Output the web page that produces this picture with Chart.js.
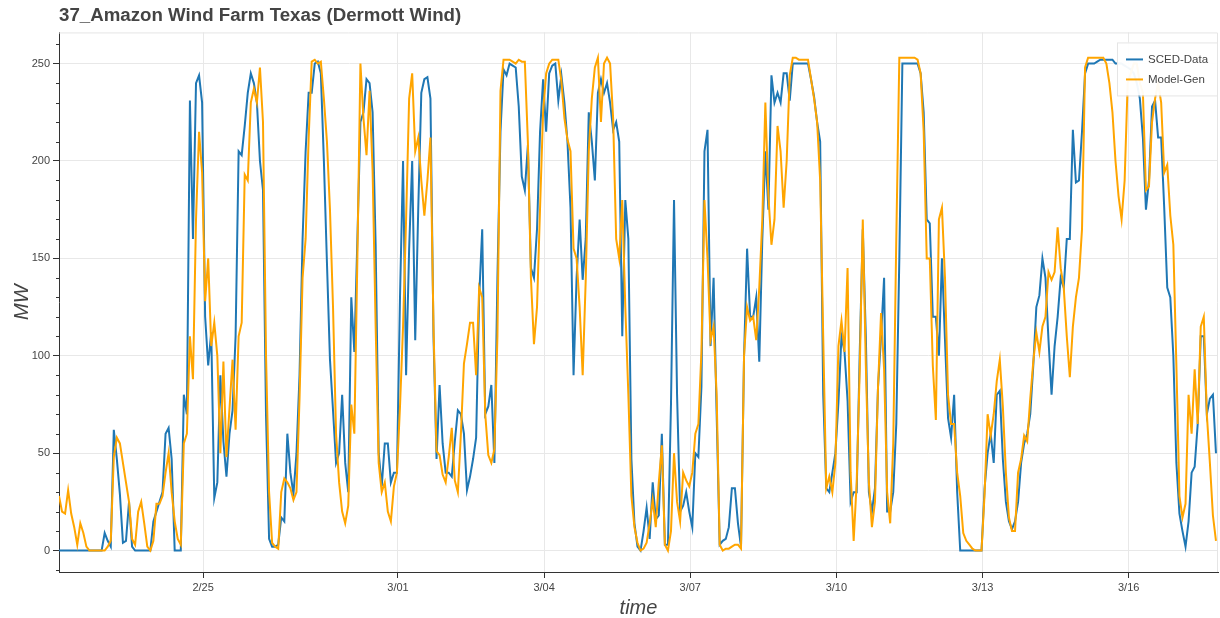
<!DOCTYPE html>
<html>
<head>
<meta charset="utf-8">
<script src="https://cdn.jsdelivr.net/npm/chart.js@4.4.1/dist/chart.umd.min.js"></script>
<style>
	html, body { margin: 0; padding: 0; background: #fff; }
</style>
</head>
<body>
<canvas id="myChart" width="1220" height="618"></canvas>
<script>
// sample times: hours since 2/22 00:00, one reading every 1.5 hours
const hours = Array.from(Array(381), (_, i) => 1 + i * 1.5);

// one row per day (2/22 ... 3/17)
const sced = [
	0, 0, 0, 0, 0, 0, 0, 0, 0, 0, 0, 0, 0, 0, 0, 9,
	5, 2, 62, 47, 29, 4, 5, 25, 2, 0, 0, 0, 0, 0, 0, 15,
	20, 25, 30, 60, 63, 47, 0, 0, 0, 80, 70, 231, 160, 240, 244, 230,
	120, 95, 112, 27, 35, 90, 56, 38, 60, 72, 110, 205, 203, 218, 235, 245,
	240, 230, 200, 185, 69, 6, 2, 2, 3, 17, 15, 60, 40, 29, 50, 90,
	160, 205, 235, 235, 250, 251, 245, 200, 148, 98, 72, 45, 50, 80, 45, 30,
	130, 102, 160, 220, 225, 242, 240, 225, 157, 50, 33, 55, 55, 35, 40, 40,
	130, 200, 90, 155, 200, 108, 176, 235, 242, 243, 232, 110, 47, 85, 55, 40,
	40, 38, 56, 72, 70, 60, 31, 38, 47, 58, 130, 165, 70, 74, 85, 45,
	140, 215, 247, 244, 250, 249, 248, 228, 192, 185, 208, 145, 140, 165, 215, 242,
	215, 245, 249, 250, 231, 244, 230, 210, 176, 90, 140, 170, 139, 160, 225, 210,
	190, 235, 242, 235, 240, 230, 216, 220, 210, 110, 180, 160, 47, 14, 2, 0,
	10, 22, 6, 35, 16, 18, 60, 3, 3, 75, 180, 80, 20, 23, 30, 20,
	12, 50, 48, 84, 205, 216, 105, 140, 70, 3, 5, 6, 12, 32, 32, 14,
	2, 100, 155, 120, 120, 130, 97, 160, 205, 175, 244, 230, 235, 230, 245, 245,
	231, 250, 250, 250, 250, 250, 250, 242, 233, 220, 210, 80, 32, 30, 40, 50,
	76, 110, 102, 77, 25, 30, 30, 102, 165, 110, 30, 20, 32, 84, 110, 140,
	20, 20, 30, 65, 150, 250, 250, 250, 250, 250, 250, 245, 225, 170, 168, 120,
	120, 100, 150, 108, 68, 58, 80, 30, 0, 0, 0, 0, 0, 0, 0, 0,
	32, 50, 60, 45, 80, 82, 47, 25, 15, 11, 15, 25, 45, 55, 60, 70,
	95, 125, 131, 150, 140, 108, 80, 105, 120, 140, 135, 160, 160, 216, 189, 190,
	215, 245, 250, 250, 250, 251, 252, 252, 252, 252, 252, 250, 250, 250, 249, 248,
	247, 245, 240, 232, 212, 175, 190, 228, 231, 212, 212, 176, 135, 130, 100, 45,
	19, 10, 2, 15, 40, 43, 65, 110, 110, 70, 78, 80, 50
];

const modelGen = [
	28, 20, 19, 31, 19, 12, 3, 14, 9, 2, 0, 0, 0, 0, 0, 0,
	2, 5, 48, 58, 55, 45, 35, 25, 6, 3, 20, 25, 14, 2, 0, 5,
	24, 24, 28, 40, 50, 30, 15, 6, 3, 55, 60, 110, 88, 170, 215, 194,
	128, 150, 105, 117, 100, 50, 97, 48, 73, 98, 62, 110, 117, 193, 190, 230,
	237, 230, 248, 220, 100, 30, 4, 2, 1, 30, 37, 35, 32, 26, 30, 78,
	140, 160, 212, 251, 252, 250, 251, 232, 210, 175, 125, 60, 35, 20, 14, 23,
	75, 60, 150, 250, 222, 203, 236, 195, 115, 45, 30, 35, 20, 15, 33, 40,
	74, 115, 170, 232, 245, 205, 212, 190, 172, 190, 212, 115, 51, 49, 39, 35,
	48, 63, 36, 30, 60, 96, 106, 117, 117, 90, 135, 130, 70, 49, 45, 52,
	110, 236, 252, 252, 252, 251, 250, 252, 251, 251, 210, 140, 106, 125, 176, 225,
	245, 250, 252, 252, 252, 241, 222, 211, 205, 155, 150, 125, 90, 139, 205, 232,
	248, 253, 220, 250, 253, 250, 222, 160, 150, 180, 125, 80, 28, 12, 4, 0,
	1, 4, 14, 26, 12, 35, 54, 3, 0, 10, 50, 25, 15, 40, 36, 33,
	40, 60, 65, 102, 180, 150, 108, 115, 80, 3, 0, 1, 1, 2, 3, 3,
	1, 100, 125, 118, 120, 108, 135, 170, 230, 182, 157, 170, 218, 205, 176, 200,
	244, 253, 253, 252, 252, 252, 252, 242, 232, 220, 190, 110, 32, 38, 30, 45,
	105, 118, 102, 145, 40, 5, 35, 93, 170, 95, 35, 12, 25, 84, 122, 93,
	30, 14, 55, 160, 253, 253, 253, 253, 253, 253, 252, 245, 215, 150, 150, 95,
	67, 170, 176, 140, 80, 65, 65, 40, 28, 9, 5, 3, 1, 0, 0, 0,
	29, 70, 59, 70, 87, 98, 74, 40, 17, 10, 10, 40, 47, 59, 56, 78,
	97, 112, 102, 115, 120, 143, 139, 143, 166, 145, 135, 110, 89, 115, 130, 140,
	165, 248, 253, 253, 253, 253, 253, 253, 250, 240, 225, 200, 182, 170, 190, 240,
	245, 250, 250, 240, 235, 185, 187, 220, 232, 240, 230, 194, 198, 172, 157, 95,
	28, 17, 24, 80, 60, 93, 65, 115, 120, 70, 45, 18, 5
];

const tickHours = [72, 168, 240, 312, 384, 456, 528];
const tickLabels = ['2/25', '3/01', '3/04', '3/07', '3/10', '3/13', '3/16'];
const yTicks = [0, 50, 100, 150, 200, 250];

const names = ['SCED-Data', 'Model-Gen'];
const colors = ['#1f77b4', '#ffa500'];

const FONT = 'Liberation Sans, Helvetica, Arial, sans-serif';

// bokeh-ish extras: plot outline, minor y ticks, legend box
const bokehBits = {
	id: 'bokehBits',
	beforeDatasetsDraw(chart) {
		const { ctx, chartArea: a } = chart;
		ctx.save();
		ctx.strokeStyle = '#e5e5e5';
		ctx.lineWidth = 1;
		ctx.beginPath();
		ctx.moveTo(a.left, a.top + 0.5);
		ctx.lineTo(a.right - 0.5, a.top + 0.5);
		ctx.lineTo(a.right - 0.5, a.bottom);
		ctx.stroke();
		ctx.restore();
	},
	afterDraw(chart) {
		const { ctx, chartArea: a } = chart;
		const y = chart.scales.y;
		ctx.save();
		ctx.strokeStyle = '#333';
		ctx.lineWidth = 1;
		ctx.beginPath();
		for (let v = -10; v <= 260; v += 10) {
			if (v % 50 === 0) continue;
			const py = Math.round(y.getPixelForValue(v)) + 0.5;
			ctx.moveTo(a.left - 3, py);
			ctx.lineTo(a.left, py);
		}
		ctx.stroke();

		// legend
		const bx = a.right - 101, by = a.top + 10, bw = 100, bh = 53;
		ctx.fillStyle = 'rgba(255,255,255,0.95)';
		ctx.fillRect(bx, by, bw, bh);
		ctx.strokeStyle = '#e5e5e5';
		ctx.strokeRect(bx + 0.5, by + 0.5, bw, bh);
		ctx.font = '11.5px ' + FONT;
		ctx.textBaseline = 'middle';
		names.forEach((name, i) => {
			const ly = by + 17 + i * 20;
			ctx.strokeStyle = colors[i];
			ctx.lineWidth = 2;
			ctx.beginPath();
			ctx.moveTo(bx + 9, ly);
			ctx.lineTo(bx + 26, ly);
			ctx.stroke();
			ctx.fillStyle = '#444';
			ctx.fillText(name, bx + 31, ly);
		});
		ctx.restore();
	}
};

var ctx = document.getElementById('myChart').getContext('2d');
var myChart = new Chart(ctx, {
	type: 'line',
	data: {
		datasets: [
			{
				label: names[0],
				data: hours.map((h, i) => ({ x: h, y: sced[i] })),
				borderColor: colors[0],
				borderWidth: 2,
				pointRadius: 0,
				tension: 0,
				order: 1
			},
			{
				label: names[1],
				data: hours.map((h, i) => ({ x: h, y: modelGen[i] })),
				borderColor: colors[1],
				borderWidth: 2,
				pointRadius: 0,
				tension: 0,
				order: 0
			}
		]
	},
	options: {
		responsive: false,
		animation: false,
		layout: { padding: { right: 2 } },
		plugins: {
			legend: { display: false },
			tooltip: { enabled: false },
			title: {
				display: true,
				text: '37_Amazon Wind Farm Texas (Dermott Wind)',
				align: 'start',
				fullSize: false,
				color: '#444',
				font: { family: FONT, size: 18.7, weight: 'bold' },
				padding: { top: 5, bottom: 5 }
			}
		},
		scales: {
			x: {
				type: 'linear',
				min: 1,
				max: 572,
				afterBuildTicks: s => { s.ticks = tickHours.map(v => ({ value: v })); },
				afterFit: s => { s.height = 46; },
				ticks: {
					callback: v => tickLabels[tickHours.indexOf(v)],
					color: '#444',
					font: { family: FONT, size: 11 },
					maxRotation: 0,
					autoSkip: false,
					padding: 3
				},
				grid: { color: '#e8e8e8', tickColor: '#333', tickLength: 6 },
				border: { color: '#333' },
				title: {
					display: true,
					text: 'time',
					color: '#444',
					font: { family: FONT, size: 20, style: 'italic', lineHeight: 1 },
					padding: { top: 0, bottom: 0 }
				}
			},
			y: {
				min: -11,
				max: 266,
				afterBuildTicks: s => { s.ticks = yTicks.map(v => ({ value: v })); },
				afterFit: s => { s.width = 59; },
				ticks: {
					color: '#444',
					font: { family: FONT, size: 11 },
					padding: 3
				},
				grid: { color: '#e8e8e8', tickColor: '#333', tickLength: 6 },
				border: { color: '#333' },
				title: {
					display: true,
					text: 'MW',
					color: '#444',
					font: { family: FONT, size: 20, style: 'italic', lineHeight: 1.2 },
					padding: { top: 10, bottom: 0 }
				}
			}
		}
	},
	plugins: [bokehBits]
});
</script>
</body>
</html>
